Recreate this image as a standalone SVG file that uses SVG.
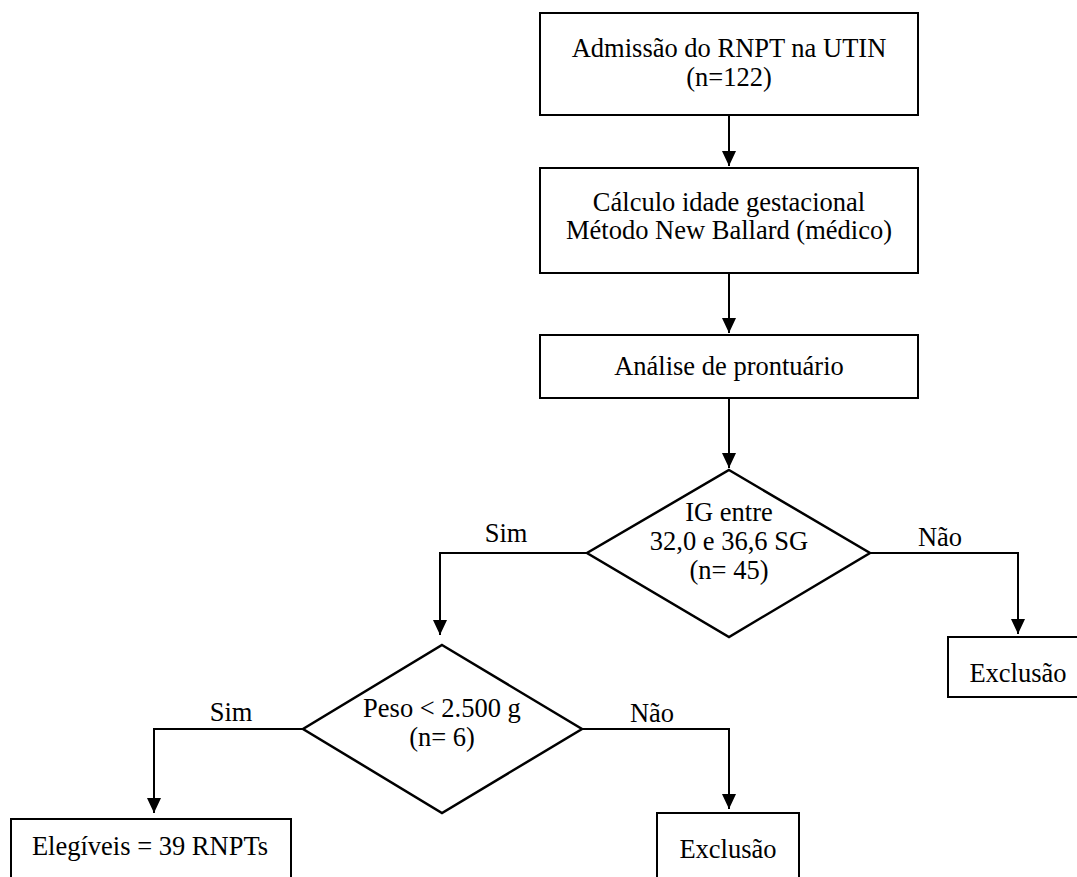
<svg xmlns="http://www.w3.org/2000/svg" width="1077" height="877" viewBox="0 0 1077 877">
<style>
.box{fill:#fff;stroke:#000;stroke-width:2}
.dia{fill:#fff;stroke:#000;stroke-width:2.5}
.t{font-family:"Liberation Serif","Times New Roman",serif;font-size:26.5px;fill:#000;text-anchor:middle}
.c{fill:none;stroke:#000;stroke-width:2}
</style>
<defs>
<marker id="ah" markerUnits="userSpaceOnUse" markerWidth="16" markerHeight="16" viewBox="0 0 16 16" refX="15" refY="8" orient="auto">
<path d="M0,1 L15,8 L0,15 Z" fill="#000"/>
</marker>
</defs>
<rect width="1077" height="877" fill="#fff"/>
<g id="connectors">
<line class="c" x1="729" y1="115" x2="729" y2="166" marker-end="url(#ah)"/>
<line class="c" x1="729" y1="273" x2="729" y2="333" marker-end="url(#ah)"/>
<line class="c" x1="729" y1="398" x2="729" y2="468" marker-end="url(#ah)"/>
<polyline class="c" points="587,553 440,553 440,635" marker-end="url(#ah)"/>
<polyline class="c" points="870,553 1018,553 1018,634" marker-end="url(#ah)"/>
<polyline class="c" points="303,729 154,729 154,813" marker-end="url(#ah)"/>
<polyline class="c" points="582,729 729,729 729,809" marker-end="url(#ah)"/>
<text class="t" x="506" y="542">Sim</text>
<text class="t" x="940" y="546">Não</text>
<text class="t" x="231" y="721">Sim</text>
<text class="t" x="652" y="722">Não</text>
</g>
<g id="admissao">
<rect class="box" x="540" y="13" width="378" height="102"/>
<text class="t" x="729" y="57">Admissão do RNPT na UTIN</text>
<text class="t" x="729" y="86">(n=122)</text>
</g>
<g id="calculo">
<rect class="box" x="540" y="168" width="378" height="105"/>
<text class="t" x="729" y="211">Cálculo idade gestacional</text>
<text class="t" x="729" y="239">Método New Ballard (médico)</text>
</g>
<g id="analise">
<rect class="box" x="540" y="335" width="378" height="63"/>
<text class="t" x="729" y="375">Análise de prontuário</text>
</g>
<g id="ig">
<polygon class="dia" points="729,470 870,553 729,637 587,553"/>
<text class="t" x="729" y="521">IG entre</text>
<text class="t" x="729" y="550">32,0 e 36,6 SG</text>
<text class="t" x="729" y="579">(n= 45)</text>
</g>
<g id="exclusao1">
<rect class="box" x="948" y="637" width="140" height="60"/>
<text class="t" x="1018" y="682">Exclusão</text>
</g>
<g id="peso">
<polygon class="dia" points="442,645 582,729 442,813 303,729"/>
<text class="t" x="442" y="717">Peso &lt; 2.500 g</text>
<text class="t" x="442" y="746">(n= 6)</text>
</g>
<g id="elegiveis">
<rect class="box" x="11" y="819" width="280" height="70"/>
<text class="t" x="150" y="855">Elegíveis = 39 RNPTs</text>
</g>
<g id="exclusao2">
<rect class="box" x="657" y="813" width="142" height="76"/>
<text class="t" x="728" y="858">Exclusão</text>
</g>
</svg>
